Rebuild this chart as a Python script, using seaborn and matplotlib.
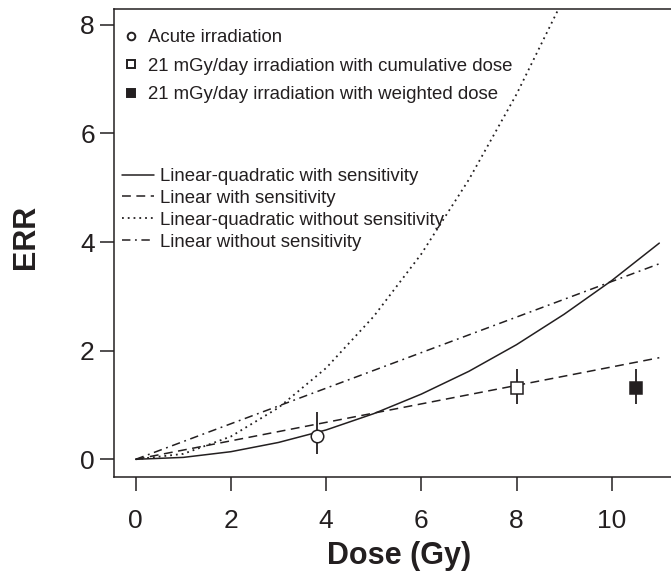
import matplotlib
matplotlib.use("Agg")
import matplotlib.pyplot as plt
from matplotlib.lines import Line2D
import seaborn as sns

# curves (ERR vs dose)
dose_grid = [0, 1, 2, 3, 4, 5, 6, 7, 8, 9, 10, 11]
lq_sens = [0, 0.035, 0.14, 0.31, 0.54, 0.84, 1.2, 1.62, 2.11, 2.67, 3.29, 3.98]
dose_lq_nosens = [0, 1, 2, 3, 4, 5, 6, 7, 8, 9]
lq_nosens = [0, 0.1, 0.42, 0.95, 1.68, 2.63, 3.78, 5.15, 6.72, 8.5]
dose_lin = [0, 11]
lin_sens = [0, 1.87]
lin_nosens = [0, 3.6]

# observed points
obs_labels = ["Acute irradiation",
              "21 mGy/day irradiation with cumulative dose",
              "21 mGy/day irradiation with weighted dose"]
obs_dose = [3.8, 8.0, 10.5]
obs_err = [0.43, 1.31, 1.31]
obs_lo = [0.34, 0.29, 0.29]
obs_hi = [0.435, 0.35, 0.35]

curve_labels = ["Linear-quadratic with sensitivity",
                "Linear with sensitivity",
                "Linear-quadratic without sensitivity",
                "Linear without sensitivity"]

ink = "#231f20"

sns.set_style("ticks")
plt.rcParams["font.family"] = ["Liberation Sans", "DejaVu Sans"]

fig = plt.figure(figsize=(6.71, 5.77), dpi=100)
W, H = 671, 577
ax_l, ax_r, ax_t, ax_b = 114.3, 700, 9, 477
ax = fig.add_axes([ax_l / W, 1 - ax_b / H, (ax_r - ax_l) / W, (ax_b - ax_t) / H])

styles = ["-", (0, (5.8, 3.6)), (0, (1, 2.2)), (0, (5.5, 3, 1.2, 3))]
widths = [1.1, 1.1, 1.3, 1.1]
sns.lineplot(x=dose_grid, y=lq_sens, ax=ax, color=ink, lw=widths[0], linestyle=styles[0])
sns.lineplot(x=dose_lin, y=lin_sens, ax=ax, color=ink, lw=widths[1], linestyle=styles[1])
sns.lineplot(x=dose_lq_nosens, y=lq_nosens, ax=ax, color=ink, lw=widths[2], linestyle=styles[2])
sns.lineplot(x=dose_lin, y=lin_nosens, ax=ax, color=ink, lw=widths[3], linestyle=styles[3])

markers = ["o", "s", "s"]
faces = ["white", "white", ink]
for i in range(3):
    ax.errorbar([obs_dose[i]], [obs_err[i]], yerr=[[obs_lo[i]], [obs_hi[i]]],
                fmt=markers[i], mfc=faces[i], mec=ink, ecolor=ink, ms=9, mew=1.1,
                elinewidth=1.3, capsize=0, zorder=3)

ax.set_xlim(-0.45, (ax_r - 135.7) / 47.6)
ax.set_ylim(-0.326, 8.29)
ax.set_xticks([0, 2, 4, 6, 8, 10])
ax.set_yticks([0, 2, 4, 6, 8])
ax.tick_params(direction="out", length=10, width=1.1, labelsize=19, color=ink, labelcolor=ink)
ax.tick_params(axis="x", pad=13)
ax.tick_params(axis="y", pad=4)
for s in ax.spines.values():
    s.set_linewidth(1.1)
    s.set_color(ink)

# legend for observed points
pt_handles = [Line2D([], [], ls="none", marker=markers[i], mfc=faces[i], mec=ink,
                     ms=6 if i else 5.5, mew=1.4) for i in range(3)]
leg1 = ax.legend(pt_handles, obs_labels, loc="upper left",
                 bbox_to_anchor=((124 - ax_l) / (ax_r - ax_l), (ax_b - 29) / (ax_b - ax_t)),
                 frameon=False, fontsize=13.4, handlelength=0.8, handletextpad=0.47,
                 labelspacing=0.62, borderpad=0, borderaxespad=0, labelcolor=ink)
ax.add_artist(leg1)

ln_handles = [Line2D([], [], color=ink, lw=w, ls=st) for st, w in zip(styles, widths)]
ax.legend(ln_handles, curve_labels, loc="upper left",
          bbox_to_anchor=((122 - ax_l) / (ax_r - ax_l), (ax_b - 168) / (ax_b - ax_t)),
          frameon=False, fontsize=13.4, handlelength=1.72, handletextpad=0.32,
          labelspacing=0.26, borderpad=0, borderaxespad=0, labelcolor=ink)

fig.text(399 / W, 1 - 556 / H, "Dose (Gy)", fontsize=22, fontweight="bold",
         ha="center", va="center", color=ink)
fig.text(26 / W, 1 - 237 / H, "ERR", fontsize=22, fontweight="bold", rotation=90,
         ha="center", va="center", color=ink)

fig.savefig("out.png", dpi=100)
